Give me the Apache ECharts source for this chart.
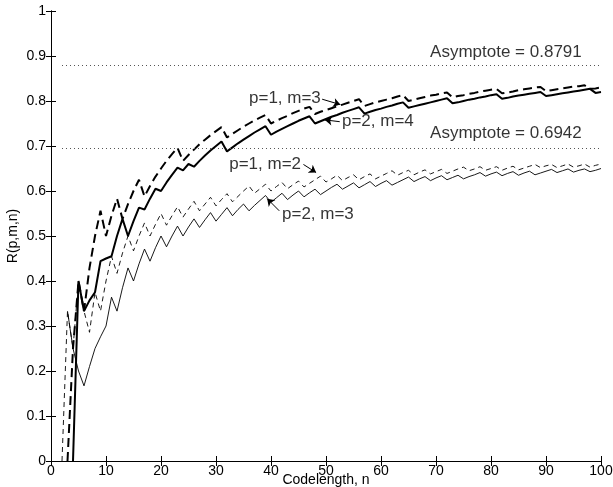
<!DOCTYPE html>
<html>
<head>
<meta charset="utf-8">
<script src="https://cdn.jsdelivr.net/npm/echarts@6/dist/echarts.min.js"></script>
<style>
  html, body { margin: 0; padding: 0; background: #fff; }
  #chart { width: 613px; height: 487px; }
</style>
</head>
<body>
<div id="chart"></div>
<script>
// codelength n = 1..100
const codelength = [
  1, 2, 3, 4, 5, 6, 7, 8, 9, 10, 11, 12, 13, 14, 15, 16, 17, 18, 19, 20,
  21, 22, 23, 24, 25, 26, 27, 28, 29, 30, 31, 32, 33, 34, 35, 36, 37, 38, 39, 40,
  41, 42, 43, 44, 45, 46, 47, 48, 49, 50, 51, 52, 53, 54, 55, 56, 57, 58, 59, 60,
  61, 62, 63, 64, 65, 66, 67, 68, 69, 70, 71, 72, 73, 74, 75, 76, 77, 78, 79, 80,
  81, 82, 83, 84, 85, 86, 87, 88, 89, 90, 91, 92, 93, 94, 95, 96, 97, 98, 99, 100
];

// R(p,m,n) (null = not drawn)
const rateP1M3 = [
  null, null, 0, 0.25, 0.4, 0.333, 0.429, 0.5, 0.556, 0.5,
  0.545, 0.583, 0.538, 0.571, 0.6, 0.625, 0.588, 0.611, 0.632, 0.65,
  0.667, 0.682, 0.696, 0.667, 0.68, 0.692, 0.704, 0.714, 0.724, 0.733,
  0.742, 0.719, 0.727, 0.735, 0.743, 0.75, 0.757, 0.763, 0.769, 0.75,
  0.756, 0.762, 0.767, 0.773, 0.778, 0.783, 0.787, 0.771, 0.776, 0.78,
  0.784, 0.788, 0.792, 0.796, 0.8, 0.804, 0.789, 0.793, 0.797, 0.8,
  0.803, 0.806, 0.81, 0.813, 0.8, 0.803, 0.806, 0.809, 0.812, 0.814,
  0.817, 0.819, 0.808, 0.811, 0.813, 0.816, 0.818, 0.821, 0.823, 0.825,
  0.827, 0.817, 0.819, 0.821, 0.824, 0.826, 0.828, 0.83, 0.831, 0.822,
  0.824, 0.826, 0.828, 0.83, 0.832, 0.833, 0.835, 0.827, 0.828, 0.83
];

const rateP2M4 = [
  null, null, null, 0, 0.4, 0.333, 0.357, 0.375, 0.444, 0.45,
  0.455, 0.5, 0.538, 0.5, 0.533, 0.563, 0.559, 0.583, 0.605, 0.6,
  0.619, 0.636, 0.652, 0.646, 0.66, 0.654, 0.667, 0.679, 0.69, 0.7,
  0.71, 0.688, 0.697, 0.706, 0.714, 0.722, 0.73, 0.737, 0.744, 0.725,
  0.732, 0.738, 0.744, 0.75, 0.756, 0.761, 0.766, 0.75, 0.755, 0.76,
  0.765, 0.769, 0.774, 0.778, 0.782, 0.786, 0.772, 0.776, 0.78, 0.783,
  0.787, 0.79, 0.794, 0.797, 0.785, 0.788, 0.791, 0.794, 0.797, 0.8,
  0.803, 0.806, 0.795, 0.797, 0.8, 0.803, 0.805, 0.808, 0.81, 0.813,
  0.815, 0.805, 0.807, 0.81, 0.812, 0.814, 0.816, 0.818, 0.82, 0.811,
  0.813, 0.815, 0.817, 0.819, 0.821, 0.823, 0.825, 0.827, 0.818, 0.82
];

const rateP1M2 = [
  null, 0, 0.333, 0.25, 0.4, 0.333, 0.286, 0.375, 0.333, 0.4,
  0.455, 0.417, 0.462, 0.5, 0.467, 0.5, 0.529, 0.5, 0.526, 0.55,
  0.524, 0.545, 0.565, 0.542, 0.56, 0.577, 0.556, 0.571, 0.586, 0.567,
  0.581, 0.594, 0.576, 0.588, 0.6, 0.611, 0.595, 0.605, 0.615, 0.6,
  0.61, 0.619, 0.605, 0.614, 0.622, 0.609, 0.617, 0.625, 0.633, 0.62,
  0.627, 0.635, 0.623, 0.63, 0.636, 0.625, 0.632, 0.638, 0.627, 0.633,
  0.639, 0.645, 0.635, 0.641, 0.646, 0.636, 0.642, 0.647, 0.638, 0.643,
  0.648, 0.639, 0.644, 0.649, 0.653, 0.645, 0.649, 0.654, 0.646, 0.65,
  0.654, 0.646, 0.651, 0.655, 0.647, 0.651, 0.655, 0.659, 0.652, 0.656,
  0.659, 0.652, 0.656, 0.66, 0.653, 0.656, 0.66, 0.653, 0.657, 0.66
];

const rateP2M3 = [
  null, null, 0.333, 0.25, 0.2, 0.167, 0.21, 0.25, 0.276, 0.3,
  0.364, 0.333, 0.385, 0.429, 0.4, 0.438, 0.471, 0.444, 0.474, 0.5,
  0.476, 0.5, 0.522, 0.5, 0.52, 0.538, 0.519, 0.536, 0.552, 0.533,
  0.548, 0.563, 0.545, 0.559, 0.571, 0.556, 0.568, 0.579, 0.59, 0.575,
  0.585, 0.595, 0.581, 0.591, 0.6, 0.587, 0.596, 0.604, 0.592, 0.6,
  0.608, 0.615, 0.604, 0.611, 0.618, 0.607, 0.614, 0.621, 0.61, 0.617,
  0.623, 0.613, 0.619, 0.625, 0.631, 0.621, 0.627, 0.632, 0.623, 0.629,
  0.634, 0.625, 0.63, 0.635, 0.627, 0.632, 0.636, 0.641, 0.633, 0.638,
  0.642, 0.634, 0.639, 0.643, 0.635, 0.64, 0.644, 0.636, 0.64, 0.644,
  0.648, 0.641, 0.645, 0.649, 0.642, 0.646, 0.649, 0.643, 0.646, 0.65
];

const asymptotes = [0.8791, 0.6942];

const FONT = "'Liberation Sans', Arial, Helvetica, sans-serif";

// text annotations and arrows, in data coordinates
const notes = [
  { text: "Asymptote = 0.8791", at: [96.5, 0.909], align: "right" },
  { text: "Asymptote = 0.6942", at: [96.5, 0.7285], align: "right" },
  { text: "p=1, m=3", at: [36.0, 0.807], align: "left" },
  { text: "p=2, m=4", at: [52.9, 0.754], align: "left" },
  { text: "p=1, m=2", at: [32.4, 0.659], align: "left" },
  { text: "p=2, m=3", at: [42.0, 0.549], align: "left" },
];
const arrows = [
  [[49.3, 0.804], [52.6, 0.792]],
  [[52.5, 0.754], [49.8, 0.758]],
  [[45.9, 0.659], [48.2, 0.641]],
  [[41.5, 0.556], [39.3, 0.583]],
];

const toPoints = values =>
  values.map((v, i) => [codelength[i], v]).filter(p => p[1] !== null);

const chart = echarts.init(document.getElementById("chart"));

const boxAxis = {
  min: 0,
  axisLine: { show: true, lineStyle: { color: "#000", width: 1 } },
  axisTick: { show: true, inside: true, length: 5, lineStyle: { color: "#000" } },
  splitLine: { show: false },
};

const option = {
  animation: false,
  backgroundColor: "#fff",
  textStyle: { fontFamily: FONT },
  grid: {
    left: 51, right: 12, top: 11, bottom: 26,
    containLabel: false,
    outerBoundsMode: "none",
  },
  xAxis: [
    {
      ...boxAxis,
      type: "value",
      max: 100,
      interval: 10,
      position: "bottom",
      name: "Codelength, n",
      nameLocation: "middle",
      nameGap: 12,
      nameMoveOverlap: false,
      nameTextStyle: { color: "#000", fontSize: 14, fontFamily: FONT },
      axisLabel: { color: "#000", fontSize: 14, margin: 3, fontFamily: FONT },
    },
    {
      ...boxAxis,
      type: "value",
      max: 100,
      interval: 10,
      position: "top",
      axisLabel: { show: false },
    },
  ],
  yAxis: [
    {
      ...boxAxis,
      type: "value",
      max: 1,
      interval: 0.1,
      position: "left",
      name: "R(p,m,n)",
      nameLocation: "middle",
      nameGap: 31,
      nameMoveOverlap: false,
      nameTextStyle: { color: "#000", fontSize: 14, fontFamily: FONT },
      axisLabel: { color: "#000", fontSize: 14, margin: 5, fontFamily: FONT },
    },
    {
      ...boxAxis,
      type: "value",
      max: 1,
      interval: 0.1,
      position: "right",
      axisLabel: { show: false },
    },
  ],
  series: [
    {
      name: "p=1, m=3",
      type: "line",
      data: toPoints(rateP1M3),
      showSymbol: false,
      lineStyle: { color: "#000", width: 2, type: [9, 5] },
      markLine: {
        silent: true,
        symbol: "none",
        label: { show: false },
        lineStyle: { color: "#555", width: 1, type: [1, 3] },
        data: asymptotes.map(a => [{ coord: [2, a] }, { coord: [100, a] }]),
      },
    },
    {
      name: "p=2, m=4",
      type: "line",
      data: toPoints(rateP2M4),
      showSymbol: false,
      lineStyle: { color: "#000", width: 2 },
    },
    {
      name: "p=1, m=2",
      type: "line",
      data: toPoints(rateP1M2),
      showSymbol: false,
      lineStyle: { color: "#000", width: 0.9, type: [5, 4] },
    },
    {
      name: "p=2, m=3",
      type: "line",
      data: toPoints(rateP2M3),
      showSymbol: false,
      lineStyle: { color: "#000", width: 0.9 },
    },
    {
      name: "notes",
      type: "scatter",
      silent: true,
      symbolSize: 1,
      itemStyle: { color: "rgba(0,0,0,0)" },
      data: notes.map(n => ({
        value: n.at,
        label: {
          show: true,
          position: "inside",
          formatter: n.text,
          align: n.align,
          verticalAlign: "middle",
          color: "#000",
          fontSize: 17,
          fontFamily: FONT,
        },
      })),
    },
    {
      name: "arrows",
      type: "lines",
      coordinateSystem: "cartesian2d",
      silent: true,
      symbol: ["none", "arrow"],
      symbolSize: 7,
      lineStyle: { color: "#000", width: 1, opacity: 1 },
      data: arrows.map(c => ({ coords: c })),
    },
  ],
};

chart.setOption(option);
</script>
</body>
</html>
